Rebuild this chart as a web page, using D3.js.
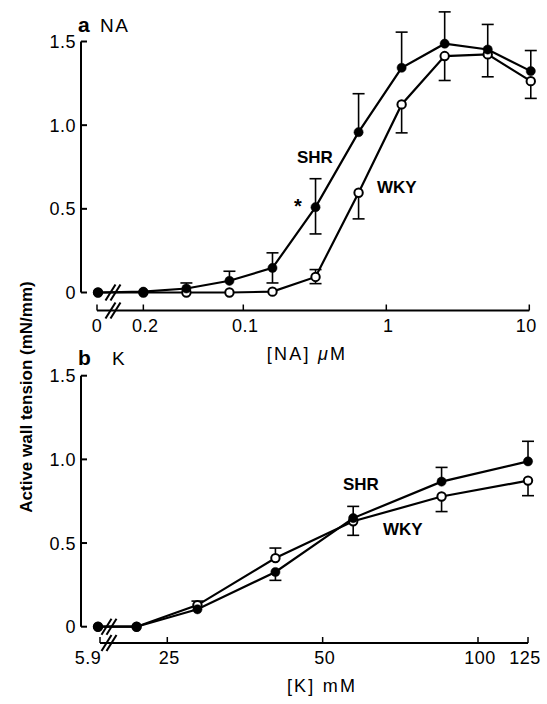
<!DOCTYPE html>
<html>
<head>
<meta charset="utf-8">
<script src="https://cdn.jsdelivr.net/npm/d3@7"></script>
<style>
	body { margin: 0; background: #fff; }
	svg { display: block; font-family: "Liberation Sans", Arial, sans-serif; }
</style>
</head>
<body>
<script>
// panel a: NA concentration (uM), first point is the "0" before the axis break
var naConc = [0, 0.02, 0.04, 0.08, 0.16, 0.32, 0.64, 1.28, 2.56, 5.12, 10.24];
var naSHR = [0, 0.005, 0.024, 0.07, 0.147, 0.51, 0.958, 1.343, 1.487, 1.452, 1.323];
var naSHRup = [0, 0, 0.033, 0.057, 0.09, 0.17, 0.23, 0.213, 0.19, 0.15, 0.123];
var naSHRdown = [0, 0, 0, 0, 0.09, 0.16, 0, 0, 0, 0, 0];
var naWKY = [0, 0, 0, 0, 0.005, 0.093, 0.596, 1.124, 1.413, 1.423, 1.263];
var naWKYup = [0, 0, 0, 0, 0, 0.044, 0, 0, 0, 0, 0];
var naWKYdown = [0, 0, 0, 0, 0, 0.04, 0.156, 0.17, 0.146, 0.134, 0.103];
var naTicks = [0.02, 0.1, 1, 10];
var naTickLabels = ["0.2", "0.1", "1", "10"];

// panel b: K concentration (mM), first point is 5.9 before the break
var kConc = [5.9, 21.8, 28.6, 40.5, 57.3, 85, 125];
var kSHR = [0, 0, 0.104, 0.327, 0.649, 0.867, 0.988];
var kSHRup = [0, 0, 0, 0, 0.07, 0.085, 0.12];
var kSHRdown = [0, 0, 0, 0.05, 0.103, 0, 0];
var kWKY = [0, 0, 0.129, 0.41, 0.63, 0.778, 0.873];
var kWKYup = [0, 0, 0.024, 0.06, 0, 0, 0];
var kWKYdown = [0, 0, 0, 0, 0, 0.09, 0.09];
var kTicks = [25, 50, 100, 125];
var kTickLabels = ["25", "50", "100", "125"];

var yTicks = [0, 0.5, 1, 1.5];
var yTickLabels = ["0", "0.5", "1.0", "1.5"];

var svg = d3.select("body").append("svg")
	.attr("width", 547)
	.attr("height", 704);

function panel(p) {
	var g = svg.append("g");
	var y = d3.scaleLinear().domain([0, 1.5]).range([p.y0, p.y0 - 251]);
	var x = d3.scaleLog().domain(p.xDomain).range(p.xRange);
	var px = function (d, i) { return i === 0 ? p.breakX : x(d); };
	var axisX = 81;

	// y axis with inward ticks
	g.append("line")
		.attr("x1", axisX).attr("x2", axisX)
		.attr("y1", y(1.5)).attr("y2", y(0))
		.attr("stroke", "#000").attr("stroke-width", 2);
	g.selectAll(".ytick")
		.data(yTicks)
		.enter().append("line")
			.attr("x1", axisX).attr("x2", axisX + 6)
			.attr("y1", function (d) { return y(d); })
			.attr("y2", function (d) { return y(d); })
			.attr("stroke", "#000").attr("stroke-width", 2);
	g.selectAll(".ylab")
		.data(yTicks)
		.enter().append("text")
			.attr("x", axisX - 5)
			.attr("y", function (d) { return y(d); })
			.attr("dy", "0.36em")
			.attr("text-anchor", "end")
			.attr("font-size", 18)
			.attr("letter-spacing", 0.5)
		.text(function (d, i) { return yTickLabels[i]; });

	// x axis with break
	var ax = p.axisY;
	g.append("line")
		.attr("x1", p.axisStart).attr("x2", x(p.ticks[p.ticks.length - 1]))
		.attr("y1", ax).attr("y2", ax)
		.attr("stroke", "#000").attr("stroke-width", 2);
	g.selectAll(".xtick")
		.data([p.axisStart].concat(p.ticks.map(function (d) { return x(d); })))
		.enter().append("line")
			.attr("x1", function (d) { return d; })
			.attr("x2", function (d) { return d; })
			.attr("y1", ax).attr("y2", ax - 6)
			.attr("stroke", "#000").attr("stroke-width", 1.5);
	g.selectAll(".xlab")
		.data([p.firstLabel].concat(p.tickLabels))
		.enter().append("text")
			.attr("x", function (d, i) { return i === 0 ? p.firstLabelX : x(p.ticks[i - 1]) + (i === p.tickLabels.length ? -3 : 2); })
			.attr("y", ax + 21)
			.attr("text-anchor", "middle")
			.attr("font-size", 18)
			.attr("letter-spacing", 0.5)
		.text(function (d) { return d; });

	// break marks on axis and on the zero line
	[ax, y(0)].forEach(function (yy) {
		[-2.5, 2.5].forEach(function (o) {
			g.append("line")
				.attr("x1", p.breakMark + o - 5).attr("y1", yy + 8)
				.attr("x2", p.breakMark + o + 5).attr("y2", yy - 8)
				.attr("stroke", "#000").attr("stroke-width", 2);
		});
	});

	var series = [
		{ v: p.wky, up: p.wkyUp, down: p.wkyDown, fill: "#fff" },
		{ v: p.shr, up: p.shrUp, down: p.shrDown, fill: "#000" }
	];

	var line = d3.line()
		.x(function (d) { return d.x; })
		.y(function (d) { return y(d.v); });

	series.forEach(function (s) {
		var pts = p.conc.map(function (c, i) {
			return { x: px(c, i), v: s.v[i], up: s.up[i], down: s.down[i] };
		});
		g.append("path")
			.datum(pts)
			.attr("d", line)
			.attr("fill", "none")
			.attr("stroke", "#000")
			.attr("stroke-width", 2.2);
		var err = g.append("g").attr("stroke", "#000").attr("stroke-width", 1.6);
		pts.forEach(function (d) {
			if (d.up > 0) {
				err.append("line").attr("x1", d.x).attr("x2", d.x)
					.attr("y1", y(d.v)).attr("y2", y(d.v + d.up));
				err.append("line").attr("x1", d.x - 6).attr("x2", d.x + 6)
					.attr("y1", y(d.v + d.up)).attr("y2", y(d.v + d.up));
			}
			if (d.down > 0) {
				err.append("line").attr("x1", d.x).attr("x2", d.x)
					.attr("y1", y(d.v)).attr("y2", y(d.v - d.down));
				err.append("line").attr("x1", d.x - 6).attr("x2", d.x + 6)
					.attr("y1", y(d.v - d.down)).attr("y2", y(d.v - d.down));
			}
		});
		s.pts = pts;
	});

	series.forEach(function (s) {
		g.selectAll(null)
			.data(s.pts)
			.enter().append("circle")
				.attr("cx", function (d) { return d.x; })
				.attr("cy", function (d) { return y(d.v); })
				.attr("r", s.fill === "#000" ? 4.6 : 4.2)
				.attr("fill", s.fill)
				.attr("stroke", "#000")
				.attr("stroke-width", s.fill === "#000" ? 0.5 : 2);
	});

	// panel letter and title
	var t = g.append("text").attr("x", 78).attr("y", p.titleY).attr("font-size", 19);
	t.append("tspan").attr("font-weight", "bold").attr("font-size", 21).text(p.letter);
	t.append("tspan").attr("x", p.titleX).attr("letter-spacing", 1.5).text(p.title);

	g.append("text")
		.attr("x", p.xTitleX).attr("y", p.xTitleY)
		.attr("text-anchor", "middle")
		.attr("font-size", 18)
		.attr("letter-spacing", 2.2)
		.html(p.xTitle);

	p.notes.forEach(function (n) {
		g.append("text")
			.attr("x", n[1]).attr("y", n[2])
			.attr("font-size", n[3])
			.attr("font-weight", "bold")
			.text(n[0]);
	});
}

panel({
	y0: 292.5, axisY: 310.5,
	xDomain: [0.1, 10], xRange: [243.3, 529.3],
	conc: naConc, ticks: naTicks, tickLabels: naTickLabels,
	firstLabel: "0", firstLabelX: 97,
	breakX: 98, axisStart: 97, breakMark: 113,
	shr: naSHR, shrUp: naSHRup, shrDown: naSHRdown,
	wky: naWKY, wkyUp: naWKYup, wkyDown: naWKYdown,
	letter: "a", title: "NA", titleX: 100, titleY: 32,
	xTitle: "[NA] <tspan font-style=\"italic\">μ</tspan>M", xTitleX: 307, xTitleY: 360,
	notes: [["SHR", 297, 163, 17], ["WKY", 377, 193, 17], ["*", 294, 213, 20]]
});

panel({
	y0: 626.7, axisY: 643,
	xDomain: [25, 100], xRange: [167.3, 478],
	conc: kConc, ticks: kTicks, tickLabels: kTickLabels,
	firstLabel: "5.9", firstLabelX: 88,
	breakX: 98, axisStart: 100, breakMark: 109,
	shr: kSHR, shrUp: kSHRup, shrDown: kSHRdown,
	wky: kWKY, wkyUp: kWKYup, wkyDown: kWKYdown,
	letter: "b", title: "K", titleX: 112, titleY: 365,
	xTitle: "[K] mM", xTitleX: 322, xTitleY: 692,
	notes: [["SHR", 343, 490, 17], ["WKY", 383, 535, 17]]
});

svg.append("text")
	.attr("transform", "translate(32,397) rotate(-90)")
	.attr("text-anchor", "middle")
	.attr("font-size", 17)
	.attr("font-weight", "bold")
	.text("Active wall tension (mN/mm)");
</script>
</body>
</html>
